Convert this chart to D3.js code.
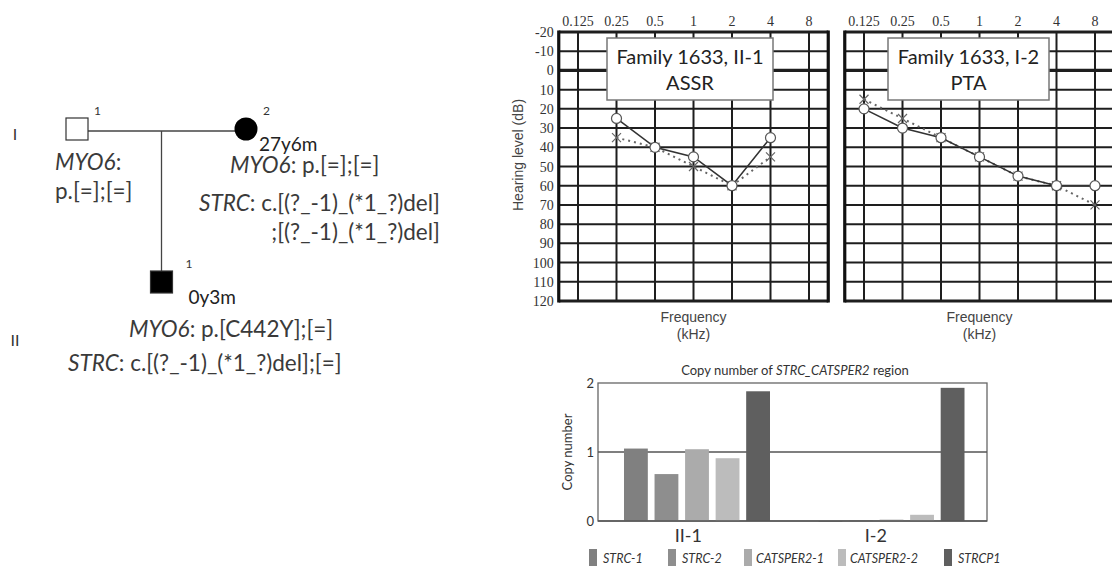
<!DOCTYPE html>
<html>
<head>
<meta charset="utf-8">
<script src="https://cdn.jsdelivr.net/npm/d3@7"></script>
<style>
  body { margin: 0; background: #fff; }
  svg { display: block; }
  text { font-family: Lato, "Open Sans", sans-serif; fill: #333; }
</style>
</head>
<body>
<svg id="fig" width="1112" height="568"></svg>
<script>
// ---- data ----
const generations = ["I", "II"];
const people = [
  { id: "I-1", gen: "I", slot: 0, sex: "M", affected: false, num: "1", age: "" },
  { id: "I-2", gen: "I", slot: 2, sex: "F", affected: true, num: "2", age: "27y6m" },
  { id: "II-1", gen: "II", slot: 1, sex: "M", affected: true, num: "1", age: "0y3m" },
];

const freqs = [0.125, 0.25, 0.5, 1, 2, 4, 8];
const freqLabels = ["0.125", "0.25", "0.5", "1", "2", "4", "8"];
const dbTicks = [-20, -10, 0, 10, 20, 30, 40, 50, 60, 70, 80, 90, 100, 110, 120];

// Family 1633, II-1 ASSR
const assrFreqs = [0.25, 0.5, 1, 2, 4];
const assrRight = [25, 40, 45, 60, 35];
const assrLeft = [35, 40, 50, 60, 45];

// Family 1633, I-2 PTA
const ptaFreqs = [0.125, 0.25, 0.5, 1, 2, 4, 8];
const ptaRight = [20, 30, 35, 45, 55, 60, 60];
const ptaLeft = [15, 25, 35, 45, 55, 60, 70];

// copy number
const cnSamples = ["II-1", "I-2"];
const cnProbes = ["STRC-1", "STRC-2", "CATSPER2-1", "CATSPER2-2", "STRCP1"];
const cnII1 = [1.05, 0.68, 1.04, 0.91, 1.88];
const cnI2 = [0.0, 0.01, 0.02, 0.09, 1.93];
const cnColors = ["#808080", "#8e8e8e", "#ababab", "#bcbcbc", "#5f5f5f"];

const svg = d3.select("#fig");
const serif = "'Liberation Serif', 'DejaVu Serif', serif";
const arial = "'Liberation Sans', Arial, sans-serif";

// ---- pedigree ----
function drawPedigree() {
  const g = svg.append("g");
  const x = d3.scaleLinear().domain([0, 2]).range([77, 246]);
  const y = d3.scalePoint().domain(generations).range([129, 282]);
  const s = 22;

  g.selectAll(".gen")
    .data(generations)
    .join("text")
    .attr("x", 15)
    .attr("y", (d, i) => y(d) + (i === 0 ? 11 : 64))
    .attr("text-anchor", "middle")
    .attr("font-size", 16)
    .text((d) => d);

  const p = Object.fromEntries(people.map((d) => [d.id, d]));
  const mateY = y("I") + 2;
  g.append("line")
    .attr("x1", x(p["I-1"].slot) + s / 2).attr("x2", x(p["I-2"].slot) - 11)
    .attr("y1", mateY).attr("y2", mateY)
    .attr("stroke", "#444").attr("stroke-width", 1.3);
  g.append("line")
    .attr("x1", x(1)).attr("x2", x(1))
    .attr("y1", mateY).attr("y2", y("II") - 11)
    .attr("stroke", "#444").attr("stroke-width", 1.3);

  people.forEach((d) => {
    const cx = x(d.slot);
    const cy = y(d.gen);
    if (d.sex === "M") {
      g.append("rect")
        .attr("x", cx - s / 2).attr("y", cy - s / 2)
        .attr("width", s).attr("height", s)
        .attr("fill", d.affected ? "#000" : "#fff")
        .attr("stroke", "#333").attr("stroke-width", 1.2);
    } else {
      g.append("circle")
        .attr("cx", cx).attr("cy", cy).attr("r", 11.5)
        .attr("fill", d.affected ? "#000" : "#fff");
    }
    g.append("text")
      .attr("x", cx + (d.gen === "II" ? 24 : 17)).attr("y", cy - 14)
      .attr("font-size", 12)
      .text(d.num);
    if (d.age) {
      g.append("text")
        .attr("x", cx + (d.sex === "M" ? 27 : 13)).attr("y", cy + 22)
        .attr("font-size", 19)
        .style("fill", "#222")
        .text(d.age);
    }
  });

  const notes = [
    { x: 55, y: 170, gene: "MYO6", rest: ":" },
    { x: 55, y: 199, gene: "", rest: "p.[=];[=]" },
    { x: 230, y: 173, gene: "MYO6", rest: ": p.[=];[=]" },
    { x: 199, y: 211, gene: "STRC", rest: ": c.[(?_-1)_(*1_?)del]" },
    { x: 267, y: 240, gene: "", rest: ";[(?_-1)_(*1_?)del]", alignTo: 3 },
    { x: 129, y: 337, gene: "MYO6", rest: ": p.[C442Y];[=]" },
    { x: 68, y: 371, gene: "STRC", rest: ": c.[(?_-1)_(*1_?)del];[=]" },
  ];
  const nodes = notes.map((n) => {
    const t = g.append("text").attr("x", n.x).attr("y", n.y)
      .attr("font-size", 22.5).style("fill", "#3a3a3a");
    if (n.gene) t.append("tspan").attr("font-style", "italic").text(n.gene);
    t.append("tspan").text(n.rest);
    return t;
  });
  // right-align the continuation line with the STRC line above it
  notes.forEach((n, i) => {
    if (n.alignTo === undefined) return;
    const ref = nodes[n.alignTo].node();
    const end = notes[n.alignTo].x + ref.getComputedTextLength();
    nodes[i].attr("x", end).attr("text-anchor", "end");
  });
}

// ---- audiogram ----
function drawAudiogram(opt) {
  const g = svg.append("g");
  const x = d3.scaleLog().base(2).domain([0.125, 8]).range([opt.x0, opt.x0 + 231]);
  const y = d3.scaleLinear().domain([-20, 120]).range([32, 301]);
  const left = x(0.125 / Math.SQRT2);
  const right = x(8 * Math.SQRT2);

  g.selectAll(".hg")
    .data(dbTicks)
    .join("line")
    .attr("x1", left).attr("x2", right)
    .attr("y1", (d) => y(d)).attr("y2", (d) => y(d))
    .attr("stroke", "#1e1e1e")
    .attr("stroke-width", (d) => (d === 0 || d === -20 || d === 120 ? 3.2 : 2));

  g.selectAll(".vg")
    .data(freqs)
    .join("line")
    .attr("x1", (d) => x(d)).attr("x2", (d) => x(d))
    .attr("y1", y(-20)).attr("y2", y(120))
    .attr("stroke", "#1e1e1e").attr("stroke-width", 2);

  [left, right].forEach((bx) => {
    g.append("line")
      .attr("x1", bx).attr("x2", bx)
      .attr("y1", y(-20) - 1.5).attr("y2", y(120) + 1.5)
      .attr("stroke", "#111").attr("stroke-width", 3.2);
  });

  g.selectAll(".fl")
    .data(freqs)
    .join("text")
    .attr("x", (d) => x(d))
    .attr("y", 26)
    .attr("text-anchor", "middle")
    .attr("font-size", 14)
    .style("font-family", serif)
    .text((d, i) => freqLabels[i]);

  if (opt.yLabels) {
    g.selectAll(".dl")
      .data(dbTicks)
      .join("text")
      .attr("x", left - 5)
      .attr("y", (d) => y(d) + 5)
      .attr("text-anchor", "end")
      .attr("font-size", 14)
      .style("font-family", serif)
      .text((d) => d);
    g.append("text")
      .attr("transform", `translate(${left - 36}, ${y(44)}) rotate(-90)`)
      .attr("text-anchor", "middle")
      .attr("font-size", 14)
      .style("font-family", arial)
      .style("fill", "#444")
      .text("Hearing level (dB)");
  }

  const cx = (left + right) / 2 + opt.labelShift;
  g.append("text").attr("x", cx).attr("y", 322).attr("text-anchor", "middle")
    .attr("font-size", 14).style("font-family", arial).style("fill", "#444").text("Frequency");
  g.append("text").attr("x", cx).attr("y", 339).attr("text-anchor", "middle")
    .attr("font-size", 14).style("font-family", arial).style("fill", "#444").text("(kHz)");

  // series
  const line = d3.line().x((d) => x(d[0])).y((d) => y(d[1]));
  const leftPts = opt.freqs.map((f, i) => [f, opt.left[i]]);
  const rightPts = opt.freqs.map((f, i) => [f, opt.right[i]]);

  g.append("path").attr("d", line(leftPts))
    .attr("fill", "none").attr("stroke", "#666")
    .attr("stroke-width", 2).attr("stroke-dasharray", "2,4");
  g.append("path").attr("d", line(rightPts))
    .attr("fill", "none").attr("stroke", "#333").attr("stroke-width", 1.6);

  g.selectAll(".xm")
    .data(leftPts)
    .join("path")
    .attr("d", (d) => {
      const px = x(d[0]), py = y(d[1]), r = 4.5;
      return `M${px - r},${py - r}L${px + r},${py + r}M${px - r},${py + r}L${px + r},${py - r}`;
    })
    .attr("stroke", "#666").attr("stroke-width", 1.2);

  g.selectAll(".om")
    .data(rightPts)
    .join("circle")
    .attr("cx", (d) => x(d[0])).attr("cy", (d) => y(d[1])).attr("r", 5)
    .attr("fill", "#fff").attr("stroke", "#555").attr("stroke-width", 1.2);

  // label box
  const bx = opt.box;
  g.append("rect")
    .attr("x", bx[0]).attr("y", 38)
    .attr("width", bx[1] - bx[0]).attr("height", 62)
    .attr("fill", "#fff").attr("stroke", "#777").attr("stroke-width", 1.5);
  g.append("text").attr("x", (bx[0] + bx[1]) / 2).attr("y", 64)
    .attr("text-anchor", "middle").attr("font-size", 20).style("fill", "#222").text(opt.title);
  g.append("text").attr("x", (bx[0] + bx[1]) / 2).attr("y", 90)
    .attr("text-anchor", "middle").attr("font-size", 20).style("fill", "#222").text(opt.test);
}

// ---- copy number bars ----
function drawCopyNumber() {
  const g = svg.append("g");
  const x0 = d3.scaleBand().domain(cnSamples).range([598, 987]);
  const x1 = d3.scaleBand().domain(cnProbes).range([26, 172]).paddingInner(0.22);
  const y = d3.scaleLinear().domain([0, 2]).range([521, 383]);
  const values = { "II-1": cnII1, "I-2": cnI2 };

  g.append("text")
    .attr("x", 795).attr("y", 375).attr("text-anchor", "middle").attr("font-size", 13)
    .call((t) => {
      t.append("tspan").text("Copy number of ");
      t.append("tspan").attr("font-style", "italic").text("STRC_CATSPER2");
      t.append("tspan").text(" region");
    });

  g.append("rect")
    .attr("x", 598).attr("y", y(2))
    .attr("width", 987 - 598).attr("height", y(0) - y(2))
    .attr("fill", "none").attr("stroke", "#666").attr("stroke-width", 1.3);
  g.append("line")
    .attr("x1", 598).attr("x2", 987).attr("y1", y(1)).attr("y2", y(1))
    .attr("stroke", "#555").attr("stroke-width", 1.3);

  cnSamples.forEach((s) => {
    g.selectAll(null)
      .data(values[s])
      .join("rect")
      .attr("x", (d, i) => x0(s) + x1(cnProbes[i]))
      .attr("y", (d) => y(d))
      .attr("width", x1.bandwidth())
      .attr("height", (d) => Math.max(1, y(0) - y(d)))
      .attr("fill", (d, i) => cnColors[i]);
  });

  g.append("line")
    .attr("x1", 598).attr("x2", 987).attr("y1", y(0)).attr("y2", y(0))
    .attr("stroke", "#555").attr("stroke-width", 1.5);

  g.selectAll(".yt")
    .data([0, 1, 2])
    .join("text")
    .attr("x", 594).attr("y", (d) => y(d) + 5)
    .attr("text-anchor", "end").attr("font-size", 13)
    .text((d) => d);
  g.append("text")
    .attr("transform", `translate(572, ${y(1)}) rotate(-90)`)
    .attr("text-anchor", "middle").attr("font-size", 13)
    .text("Copy number");

  g.selectAll(".xt")
    .data(cnSamples)
    .join("text")
    .attr("x", (d, i) => x0(d) + x0.bandwidth() / 2 - (i === 0 ? 7 : 14))
    .attr("y", 542)
    .attr("text-anchor", "middle").attr("font-size", 18)
    .text((d) => d);

  const legX = [589, 668, 744, 838, 944];
  cnProbes.forEach((p, i) => {
    g.append("rect")
      .attr("x", legX[i]).attr("y", 549).attr("width", 8).attr("height", 17)
      .attr("fill", cnColors[i]);
    g.append("text")
      .attr("x", legX[i] + (i >= 2 && i <= 3 ? 12 : 14)).attr("y", 563)
      .attr("font-size", 12.5).attr("font-style", "italic")
      .text(p);
  });
}

drawPedigree();
drawAudiogram({
  x0: 578, yLabels: true, labelShift: 0,
  freqs: assrFreqs, left: assrLeft, right: assrRight,
  box: [607, 773], title: "Family 1633, II-1", test: "ASSR",
});
drawAudiogram({
  x0: 864, yLabels: false, labelShift: 0,
  freqs: ptaFreqs, left: ptaLeft, right: ptaRight,
  box: [888, 1049], title: "Family 1633, I-2", test: "PTA",
});
drawCopyNumber();
</script>
</body>
</html>
